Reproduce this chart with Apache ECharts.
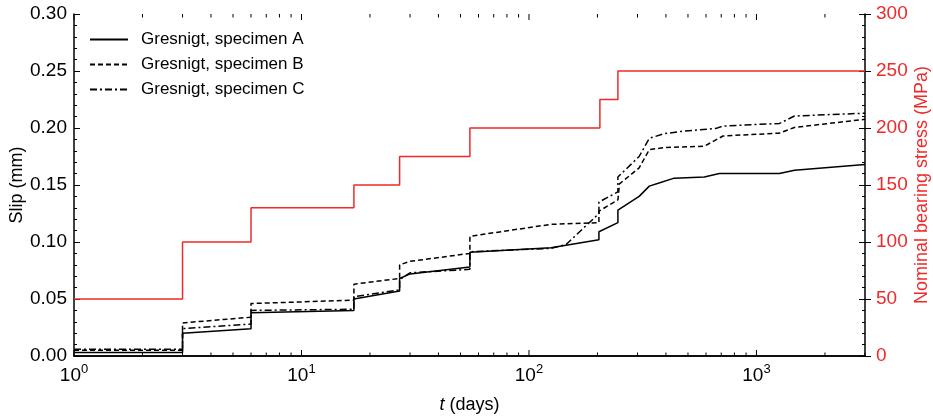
<!DOCTYPE html>
<html>
<head>
<meta charset="utf-8">
<script src="https://cdn.jsdelivr.net/npm/echarts@6/dist/echarts.min.js"></script>
<style>
  html, body { margin: 0; padding: 0; background: #fff; }
  #chart { width: 933px; height: 417px; }
</style>
</head>
<body>
<div id="chart"></div>
<script>
// Slip histories (time in days, slip in mm)
const tA = [1, 3, 3, 6, 6, 17, 17, 27, 27, 30, 55, 55, 125, 203, 203, 246, 246, 305, 338, 370, 435, 590, 687, 1262, 1469, 3000];
const slipA = [0.003, 0.003, 0.020, 0.024, 0.038, 0.040, 0.050, 0.057, 0.068, 0.072, 0.078, 0.091, 0.095, 0.102, 0.109, 0.117, 0.128, 0.140, 0.149, 0.1515, 0.156, 0.157, 0.160, 0.160, 0.163, 0.168];

const tB = [1, 3, 3, 6, 6, 17, 17, 27, 27, 30, 55, 55, 125, 203, 203, 246, 250, 305, 338, 400, 590, 713, 1262, 1469, 3000];
const slipB = [0.005, 0.005, 0.029, 0.034, 0.046, 0.049, 0.063, 0.068, 0.080, 0.083, 0.090, 0.105, 0.1155, 0.117, 0.127, 0.137, 0.151, 0.165, 0.181, 0.183, 0.184, 0.193, 0.1955, 0.2005, 0.2076];

const tC = [1, 3, 3, 6, 6, 17, 17, 27, 27, 30, 55, 55, 125, 146, 203, 203, 246, 246, 305, 338, 393, 468, 666, 713, 1262, 1469, 3000];
const slipC = [0.006, 0.006, 0.024, 0.028, 0.040, 0.041, 0.052, 0.058, 0.067, 0.073, 0.076, 0.0915, 0.0944, 0.098, 0.125, 0.135, 0.144, 0.157, 0.175, 0.191, 0.195, 0.197, 0.1997, 0.2017, 0.204, 0.2105, 0.213];

// Load steps: stress level starting at each time
const stressT = [1, 3, 6, 17, 27, 55, 205, 246, 3000];
const stressMPa = [50, 100, 130, 150, 175, 200, 225, 250, 250];

const seriesNames = ['Gresnigt, specimen A', 'Gresnigt, specimen B', 'Gresnigt, specimen C'];
const slipTicks = [0, 0.05, 0.10, 0.15, 0.20, 0.25, 0.30];
const stressTicks = [0, 50, 100, 150, 200, 250, 300];

const FONT = '"Liberation Sans", Arial, sans-serif';
const RED = '#ee2a2a';
const TICK_FONT = 19;

const zip = (xs, ys) => xs.map((x, i) => [x, ys[i]]);

const chart = echarts.init(document.getElementById('chart'), null, { renderer: 'canvas' });

const axisLineStyle = { color: '#000', width: 1.5 };

chart.setOption({
  animation: false,
  textStyle: { fontFamily: FONT },
  grid: { left: 74, right: 68, top: 14, bottom: 61, containLabel: false, outerBoundsMode: 'none' },
  legend: {
    data: seriesNames,
    orient: 'vertical',
    left: 84,
    top: 26,
    itemWidth: 38,
    itemHeight: 12,
    itemGap: 8,
    itemStyle: { opacity: 0 },
    textStyle: { fontFamily: FONT, fontSize: 17, color: '#000', padding: [0, 0, 0, 8] }
  },
  xAxis: [
    {
      type: 'log',
      logBase: 10,
      min: 1,
      max: 3000,
      position: 'bottom',
      name: '{i|t} (days)',
      nameLocation: 'middle',
      nameGap: 40,
      nameMoveOverlap: false,
      nameTextStyle: {
        fontFamily: FONT, fontSize: 18, color: '#000',
        rich: { i: { fontFamily: FONT, fontSize: 18, fontStyle: 'italic', color: '#000' } }
      },
      axisLine: { show: true, lineStyle: axisLineStyle },
      axisTick: { show: false },
      splitLine: { show: false },
      axisLabel: {
        margin: 7,
        showMaxLabel: false,
        formatter: function (v) {
          const e = Math.round(Math.log10(v));
          if (Math.abs(Math.pow(10, e) - v) / v > 1e-6) return '';
          return '{b|10}{s|' + e + '}';
        },
        rich: {
          b: { fontFamily: FONT, fontSize: TICK_FONT, color: '#000' },
          s: { fontFamily: FONT, fontSize: 13, color: '#000', padding: [0, 0, 13, 0] }
        }
      }
    },
    {
      type: 'log',
      logBase: 10,
      min: 1,
      max: 3000,
      position: 'top',
      axisLine: { show: true, lineStyle: axisLineStyle },
      axisTick: { show: false },
      axisLabel: { show: false },
      splitLine: { show: false }
    }
  ],
  yAxis: [
    {
      type: 'value',
      min: 0,
      max: 0.3,
      interval: 0.05,
      position: 'left',
      name: 'Slip (mm)',
      nameLocation: 'middle',
      nameGap: 48,
      nameMoveOverlap: false,
      nameTextStyle: { fontFamily: FONT, fontSize: 18, color: '#000' },
      axisLine: { show: true, lineStyle: axisLineStyle },
      axisTick: { show: true, inside: true, length: 6, lineStyle: { color: '#000', width: 1 } },
      minorTick: { show: true, splitNumber: 5, length: 3, lineStyle: { color: '#000', width: 1 } },
      splitLine: { show: false },
      axisLabel: {
        margin: 7,
        fontFamily: FONT, fontSize: TICK_FONT, color: '#000',
        customValues: slipTicks,
        formatter: v => v.toFixed(2)
      }
    },
    {
      type: 'value',
      min: 0,
      max: 300,
      interval: 50,
      position: 'right',
      name: 'Nominal bearing stress (MPa)',
      nameLocation: 'middle',
      nameGap: 48,
      nameRotate: 90,
      nameMoveOverlap: false,
      nameTextStyle: { fontFamily: FONT, fontSize: 18, color: RED },
      axisLine: { show: true, lineStyle: axisLineStyle },
      axisTick: { show: true, inside: true, length: 6, lineStyle: { color: '#000', width: 1 } },
      minorTick: { show: true, splitNumber: 5, length: 3, lineStyle: { color: '#000', width: 1 } },
      splitLine: { show: false },
      axisLabel: {
        margin: 11,
        fontFamily: FONT, fontSize: TICK_FONT, color: RED,
        customValues: stressTicks
      }
    },
    {
      // outward major ticks on the stress axis
      type: 'value',
      min: 0,
      max: 300,
      interval: 50,
      position: 'right',
      axisLine: { show: false },
      axisTick: { show: true, inside: false, length: 6, lineStyle: { color: '#000', width: 1 } },
      axisLabel: { show: false },
      splitLine: { show: false }
    }
  ],
  series: [
    {
      name: seriesNames[0],
      type: 'line',
      data: zip(tA, slipA),
      symbol: 'none',
      color: '#000',
      lineStyle: { color: '#000', width: 1.5, type: 'solid' },
      z: 3
    },
    {
      name: seriesNames[1],
      type: 'line',
      data: zip(tB, slipB),
      symbol: 'none',
      color: '#000',
      lineStyle: { color: '#000', width: 1.5, type: [5, 3] },
      z: 3
    },
    {
      name: seriesNames[2],
      type: 'line',
      data: zip(tC, slipC),
      symbol: 'none',
      color: '#000',
      lineStyle: { color: '#000', width: 1.5, type: [7, 3, 2, 3] },
      z: 3
    },
    {
      name: 'Nominal bearing stress',
      type: 'line',
      yAxisIndex: 1,
      step: 'end',
      data: zip(stressT, stressMPa),
      symbol: 'none',
      color: RED,
      lineStyle: { color: RED, width: 1.5 },
      z: 2
    }
  ]
});

// Decade and sub-decade ticks on the log time axes, placed through the axis scale
function drawLogTicks() {
  const yBottom = chart.convertToPixel({ yAxisIndex: 0 }, 0);
  const yTop = chart.convertToPixel({ yAxisIndex: 0 }, 0.3);
  const els = [];
  for (let e = 0; e <= 3; e++) {
    for (let m = 1; m <= 9; m++) {
      const v = m * Math.pow(10, e);
      if (v > 3000) break;
      const x = chart.convertToPixel({ xAxisIndex: 0 }, v);
      const len = m === 1 ? 6 : 3.5;
      els.push({
        type: 'line', silent: true, z: 10,
        shape: { x1: x, y1: yBottom, x2: x, y2: yBottom - len },
        style: { stroke: '#000', lineWidth: 1 }
      });
      els.push({
        type: 'line', silent: true, z: 10,
        shape: { x1: x, y1: yTop, x2: x, y2: yTop + len },
        style: { stroke: '#000', lineWidth: 1 }
      });
    }
  }
  chart.setOption({ graphic: els });
}
drawLogTicks();
</script>
</body>
</html>
